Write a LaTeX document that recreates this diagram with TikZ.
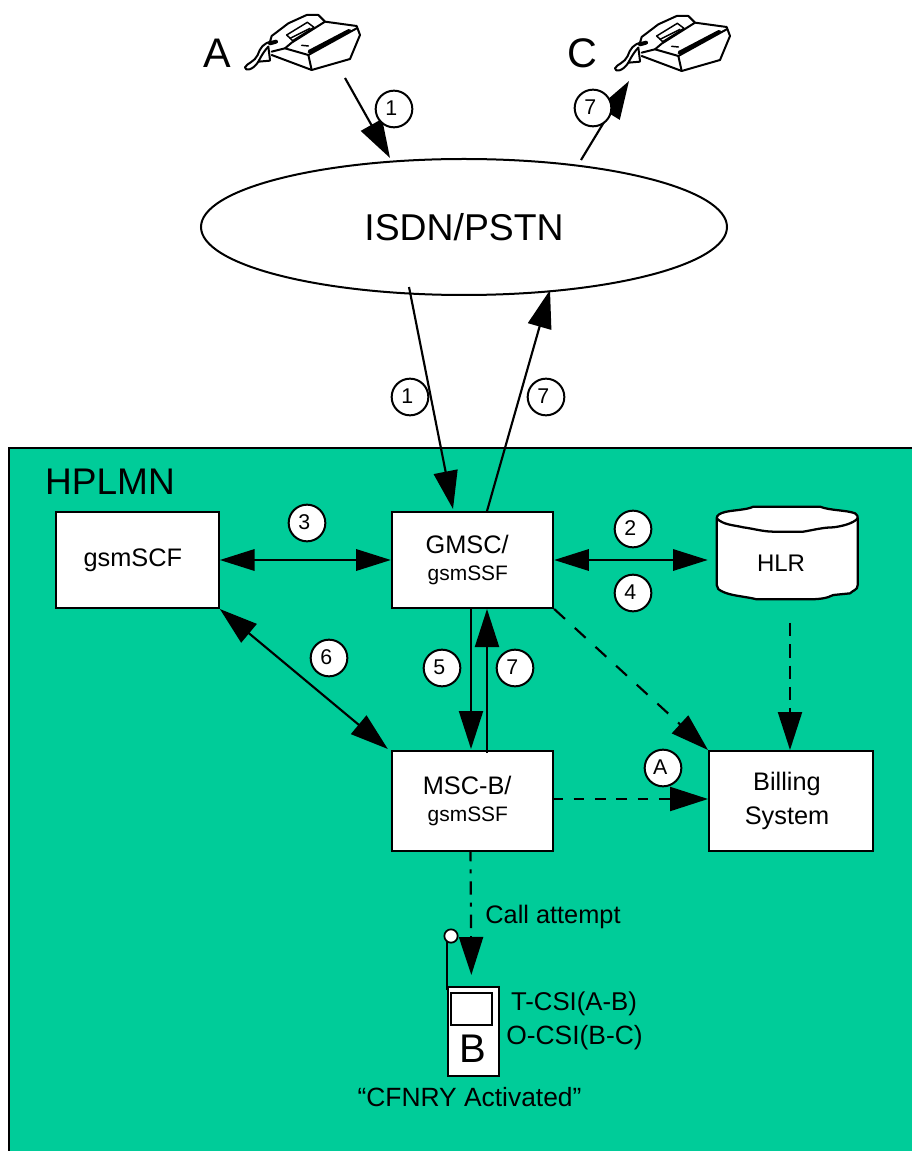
\documentclass[tikz,border=0pt]{standalone}
\usepackage{fontspec}
\setmainfont{Liberation Sans}
\usetikzlibrary{arrows.meta,calc,shapes.geometric}
\definecolor{panelgreen}{RGB}{0,204,153}
\newcommand{\fsz}[1]{\fontsize{#1}{#1}\selectfont}
\newcommand{\numtxt}[1]{\raisebox{1.5pt}{#1}\hspace*{4pt}}
\tikzset{
  x=0.75pt,y=-0.75pt,
  conn/.style={line width=1.6pt},
  box/.style={draw=black,fill=white,rectangle,line width=1.5pt,inner sep=0pt,align=center,font=\fsz{19}},
  num/.style={draw=black,fill=white,circle,line width=1.5pt,inner sep=0pt,minimum size=27.5pt,font=\fsz{16}},
  lbl/.style={inner sep=0pt,align=center,font=\fsz{19}},
  one/.style={conn,-{Triangle[length=28.5pt,width=18pt]}},
  two/.style={conn,{Triangle[length=26pt,width=16pt]}-{Triangle[length=26pt,width=16pt]}},
  twobig/.style={conn,{Triangle[length=28.5pt,width=18pt]}-{Triangle[length=28.5pt,width=18pt]}},
  dashshort/.style={dash pattern=on 8pt off 8pt},
  dashlong/.style={dash pattern=on 11pt off 10pt},
  dashdotb/.style={dash pattern=on 10pt off 6pt on 3pt off 6pt,dash phase=3pt},
}
\newcommand{\phoneicon}[2]{%
  \begin{scope}[shift={(#1,#2)},x=0.25pt,y=-0.25pt,line join=round,line cap=round]
    \draw[line width=1.5pt] (245,135) -- (365,180) -- (480,147) -- (510,75) -- (500,48) -- (405,35) -- (385,15) -- (350,15) -- (295,40) -- (245,78) -- (240,95);
    \draw[line width=1.5pt] (365,180) -- (355,135) -- (500,55);
    \draw[line width=1.5pt] (355,135) -- (285,115) -- (245,125);
    \draw[line width=1.5pt] (285,115) -- (305,98) -- (405,35);
    \draw[line width=1.1pt] (290,75) -- (352,37) -- (372,52) -- (308,92) -- cycle;
    \draw[line width=1.1pt] (300,85) -- (360,55);
    \draw[line width=2.8pt] (358,125) -- (478,62);
    \draw[line width=1.1pt] (335,106) -- (355,108);
    \draw[line width=3pt] (240,100) -- (258,95);
    \draw[line width=1.5pt] (245,95) .. controls (220,98) and (210,115) .. (203,135) .. controls (195,155) and (170,160) .. (165,172) .. controls (165,185) and (190,180) .. (205,155) .. controls (215,135) and (225,120) .. (235,110);
    \draw[line width=1.5pt] (205,155) -- (240,152);
    \draw[line width=1.5pt] (235,110) -- (240,150);
  \end{scope}}
\begin{document}
\begin{tikzpicture}
\useasboundingbox (0,0) rectangle (911,1151);
% panel
\fill[white] (0,0) rectangle (911,1151);
\draw[fill=panelgreen,line width=1.5pt] (9,1160) -- (9,448) -- (920,448) -- (920,1160) -- cycle;
\node[lbl,font=\fsz{27.8}] (hplmn) at (110,482) {HPLMN};

% phones
\phoneicon{190}{10}
\phoneicon{560}{11}
\node[lbl,font=\fsz{31}] (labA) at (217,53) {A};
\node[lbl,font=\fsz{31}] (labC) at (582,53) {C};
\coordinate (phoneA) at (345,78);
\coordinate (phoneC) at (629,81);

% network
\node[draw=black,fill=white,ellipse,line width=1.5pt,inner sep=0pt,minimum width=394.5pt,minimum height=102pt,font=\fsz{28}] (isdn) at (464,227) {ISDN/PSTN};

% boxes
\node[box,minimum width=122pt,minimum height=72pt] (gsmscf) at (137.5,560) {gsmSCF\hspace*{7pt}};
\node[box,minimum width=121pt,minimum height=72pt] (gmsc) at (472.5,560) {GMSC/\hspace*{8pt}\\[1.5pt]{\fsz{15.7}gsmSSF}\hspace*{7pt}};
\node[box,minimum width=121pt,minimum height=75pt] (msc) at (472.5,801) {MSC-B/\hspace*{8pt}\\[1.5pt]{\fsz{15.7}gsmSSF}\hspace*{7pt}};
\node[box,minimum width=123pt,minimum height=75pt] (billing) at (791,801) {Billing\hspace*{6pt}\\[6pt]System\hspace*{6pt}};

% HLR
\begin{scope}[shift={(690,490)},x=0.25pt,y=-0.25pt,line join=round]
  \draw[fill=white,line width=1.7pt] (290,50) -- (390,50) .. controls (420,62) and (470,60) .. (495,70) .. controls (503,74) and (503,80) .. (503,85) -- (503,285) .. controls (503,300) and (490,300) .. (480,310) -- (430,315) .. controls (410,325) and (390,328) .. (350,328) -- (200,328) .. controls (170,320) and (130,318) .. (105,308) .. controls (85,300) and (80,295) .. (80,285) -- (80,85) .. controls (80,75) and (90,70) .. (105,66) .. controls (130,60) and (170,60) .. (190,50) -- cycle;
  \draw[line width=1.7pt] (80,85) .. controls (100,105) and (130,105) .. (160,112) .. controls (190,116) and (220,125) .. (250,125) -- (340,125) .. controls (370,120) and (400,112) .. (430,112) .. controls (460,108) and (490,100) .. (503,85);
\end{scope}
\node[inner sep=0pt,minimum width=115.5pt,minimum height=54.75pt,font=\fsz{18}] (hlr) at (781,563.5) {HLR};

% phone B
\draw[line width=1.5pt] (447,990) -- (447,940);
\node[draw=black,fill=white,line width=1.5pt,inner sep=0pt,minimum width=38pt,minimum height=66.5pt,anchor=north west] (phoneb) at (447,986) {};
\node[draw=black,fill=white,line width=1.3pt,inner sep=0pt,minimum width=30.5pt,minimum height=24pt] (screenb) at (471.5,1009) {};
\node[lbl,font=\fsz{30}] (letterb) at (473,1049) {B};
\node[draw=black,fill=white,circle,line width=1.3pt,inner sep=0pt,minimum size=10pt] (antenna) at (451,936) {};
\node[lbl] (attempt) at (553,917) {Call attempt};
\node[lbl,font=\fsz{19.3}] (tcsi) at (574,1004) {T-CSI(A-B)};
\node[lbl,font=\fsz{19.8}] (ocsi) at (574.5,1038) {O-CSI(B-C)};
\node[lbl,font=\fsz{19.8}] (cfnry) at (469.5,1097) {“CFNRY Activated”};

% connectors
\draw[one] (phoneA) -- ($(isdn.center)+(-74,-69)$);
\draw[one] ($(isdn.center)+(117,-67)$) -- (phoneC);
\draw[one] ($(isdn.center)+(-55,60)$) -- ($(gmsc.north)+(-19.5,-2)$);
\draw[one] ($(gmsc.north)+(14.5,0)$) -- ($(isdn.center)+(86,63)$);
\draw[two] (gsmscf.east) -- (gmsc.west);
\draw[two] (gmsc.east) -- ($(hlr.west)+(4,-3.5)$);
\draw[twobig] (gsmscf.south east) -- ($(msc.north west)+(-3,-1)$);
\draw[one] ($(gmsc.south)+(-1.5,-1)$) -- ($(msc.north)+(-1.5,-1)$);
\draw[one] ($(msc.north)+(14.5,3)$) -- ($(gmsc.south)+(14.5,0)$);
\draw[one,dashlong] (gmsc.south east) -- (billing.north west);
\draw[one,dash pattern=on 10pt off 6pt,shorten <=17pt] ($(hlr.south)+(9,0)$) -- ($(billing.north)+(-1,0)$);
\draw[one,dashshort] ($(msc.east)+(-2,-2)$) -- ($(billing.west)+(0,-2)$);
\draw[one,dashdotb] ($(msc.south)+(-2,0)$) -- ($(phoneb.north)+(-2,-11)$);

% step numbers
\node[num] (n1a) at (394,109) {\numtxt{1}};
\node[num] (n7a) at (593,108) {\numtxt{7}};
\node[num] (n1b) at (410,397) {\numtxt{1}};
\node[num] (n7b) at (546,397) {\numtxt{7}};
\node[num] (n3) at (307,523) {\numtxt{3}};
\node[num] (n2) at (633,529) {\numtxt{2}};
\node[num] (n4) at (633,593) {\numtxt{4}};
\node[num] (n6) at (329,658) {\numtxt{6}};
\node[num] (n5) at (442,668) {\numtxt{5}};
\node[num] (n7c) at (515,668) {\numtxt{7}};
\node[num] (nA) at (663,768) {\numtxt{A}};
\end{tikzpicture}
\end{document}
